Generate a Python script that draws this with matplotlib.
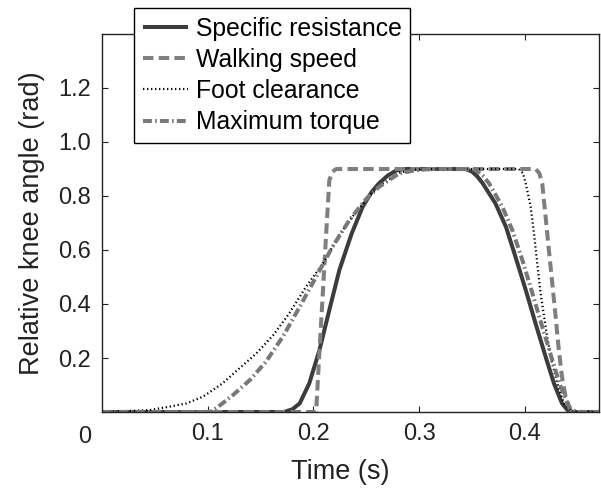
import matplotlib
matplotlib.use("Agg")
import matplotlib.pyplot as plt

plt.rcParams['font.family'] = ['Liberation Sans', 'DejaVu Sans']
plt.rcParams['font.size'] = 17

# values (time in s, angle in rad)
t_resist = [0.0, 0.10, 0.172, 0.18, 0.187, 0.196, 0.2057, 0.215, 0.2245, 0.236, 0.2465, 0.255,
            0.262, 0.27, 0.278, 0.286, 0.344, 0.35, 0.355, 0.36, 0.372, 0.382, 0.391, 0.4007,
            0.41, 0.4195, 0.4274, 0.435, 0.44, 0.4446, 0.47]
a_resist = [0.0, 0.0, 0.0, 0.01, 0.032, 0.106, 0.23, 0.378, 0.526, 0.66, 0.76, 0.815,
            0.847, 0.875, 0.894, 0.9, 0.9, 0.89, 0.872, 0.847, 0.773, 0.686, 0.575, 0.452,
            0.328, 0.205, 0.106, 0.032, 0.008, 0.0, 0.0]

t_speed = [0.0, 0.2025, 0.2057, 0.209, 0.212, 0.215, 0.218, 0.2214, 0.41, 0.4135, 0.4163,
           0.4195, 0.4226, 0.4258, 0.429, 0.432, 0.435, 0.4384, 0.443, 0.447, 0.47]
a_speed = [0.0, 0.0, 0.23, 0.452, 0.662, 0.859, 0.89, 0.9, 0.9, 0.885, 0.847,
           0.723, 0.6, 0.477, 0.353, 0.23, 0.131, 0.057, 0.007, 0.0, 0.0]

t_foot = [0.0, 0.045, 0.064, 0.080, 0.0956, 0.114, 0.130, 0.146, 0.162, 0.177, 0.193, 0.209,
          0.2245, 0.24, 0.255, 0.265, 0.281, 0.297, 0.315, 0.394, 0.398, 0.4007, 0.4054,
          0.4085, 0.4116, 0.4148, 0.4195, 0.4242, 0.4305, 0.4368, 0.4446, 0.47]
a_foot = [0.0, 0.007, 0.02, 0.032, 0.057, 0.106, 0.162, 0.217, 0.285, 0.365, 0.464, 0.551,
          0.656, 0.74, 0.81, 0.845, 0.886, 0.898, 0.9, 0.9, 0.885, 0.847, 0.76,
          0.662, 0.551, 0.44, 0.316, 0.205, 0.106, 0.032, 0.0, 0.0]

t_torque = [0.0, 0.102, 0.108, 0.124, 0.140, 0.155, 0.171, 0.187, 0.2025, 0.218, 0.234, 0.25,
            0.262, 0.281, 0.297, 0.312, 0.35, 0.3535, 0.36, 0.366, 0.3786, 0.388, 0.3975,
            0.407, 0.4163, 0.4258, 0.4337, 0.4415, 0.448, 0.47]
a_torque = [0.0, 0.0, 0.014, 0.063, 0.119, 0.186, 0.279, 0.39, 0.501, 0.612, 0.711, 0.79,
            0.834, 0.884, 0.896, 0.9, 0.9, 0.896, 0.875, 0.847, 0.76, 0.674, 0.563,
            0.44, 0.316, 0.193, 0.094, 0.02, 0.0, 0.0]

labels = ["Specific resistance", "Walking speed", "Foot clearance", "Maximum torque"]
x_ticks = [0.1, 0.2, 0.3, 0.4]
y_ticks = [0.2, 0.4, 0.6, 0.8, 1.0, 1.2]

fig = plt.figure(figsize=(6.01, 4.90), dpi=100)
ax = fig.add_axes([102 / 601, 78 / 490, 497 / 601, 378 / 490])

ax.plot(t_resist, a_resist, color='#3c3c3c', lw=2.9, solid_capstyle='butt', label=labels[0])
ax.plot(t_speed, a_speed, color='#7f7f7f', lw=2.9, dashes=(2.6, 1.3), label=labels[1])
ax.plot(t_foot, a_foot, color='black', lw=1.6, dashes=(0.6, 1.2), label=labels[2])
ax.plot(t_torque, a_torque, color='#787878', lw=2.9, dashes=(2.2, 0.8, 0.4, 0.8), label=labels[3])

ax.set_xlim(0, 0.47)
ax.set_ylim(0, 1.4)
ax.set_xticks(x_ticks)
ax.set_xticklabels([f"{v:.1f}" for v in x_ticks])
ax.set_yticks(y_ticks)
ax.set_yticklabels([f"{v:.1f}" for v in y_ticks])
ax.tick_params(direction='in', top=True, right=True, length=4, width=0.8,
               colors='#222222', labelsize=17, pad=8)
for sp in ax.spines.values():
    sp.set_linewidth(1.0)
    sp.set_color('#222222')

ax.set_xlabel("Time (s)", fontsize=19.5, color='#222222')
ax.set_ylabel("Relative knee angle (rad)", fontsize=19.5, color='#222222')
ax.xaxis.set_label_coords(0.48, -0.125)
ax.yaxis.set_label_coords(-0.115, 0.5)
# shared origin label, sits under the y tick labels
fig.text(85 / 601, 1 - 437 / 490, "0", ha='center', va='center', fontsize=17, color='#222222')

leg = ax.legend(loc='upper left', bbox_to_anchor=(134 / 601, 1 - 8 / 490),
                bbox_transform=fig.transFigure, borderaxespad=0, fancybox=False,
                edgecolor='black', framealpha=1, fontsize=17.8, handlelength=1.85,
                handletextpad=0.3, borderpad=0.35, labelspacing=0.29)
leg.get_frame().set_linewidth(1.0)

fig.savefig("out.png", dpi=100)
